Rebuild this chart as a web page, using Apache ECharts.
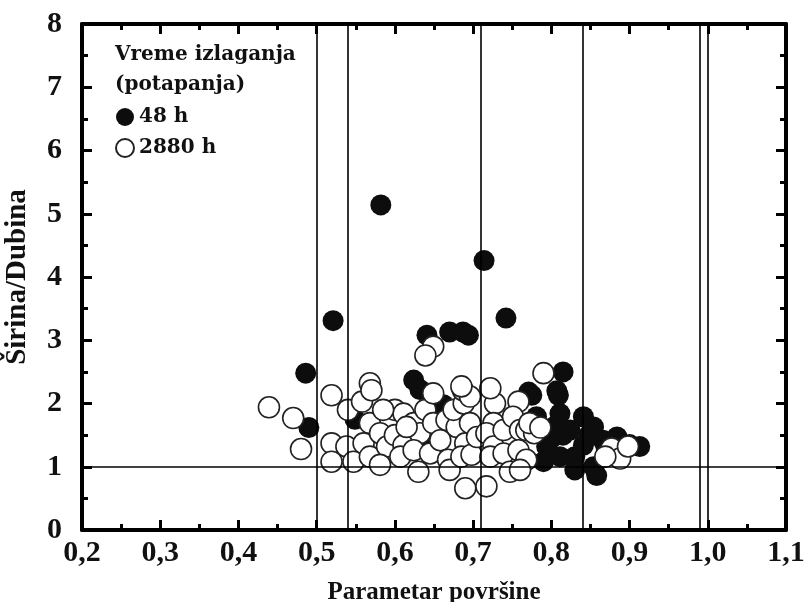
<!DOCTYPE html>
<html>
<head>
<meta charset="utf-8">
<script src="https://cdn.jsdelivr.net/npm/echarts@6/dist/echarts.min.js"></script>
<style>
  html, body { margin: 0; padding: 0; background: #fff; }
  #chart { width: 804px; height: 602px; }
</style>
</head>
<body>
<div id="chart"></div>
<script>
// 48 h (puni kruzici) - [parametar povrsine, sirina/dubina]
const points48h = [
  [0.486, 2.48], [0.490, 1.62], [0.521, 3.31], [0.549, 1.75], [0.582, 5.14],
  [0.624, 2.37], [0.632, 2.22], [0.641, 3.08], [0.662, 1.98], [0.636, 1.46],
  [0.670, 3.13], [0.687, 3.13], [0.694, 3.08], [0.714, 4.26], [0.742, 3.35],
  [0.771, 2.18], [0.775, 2.13], [0.807, 2.20], [0.815, 2.50], [0.809, 2.13],
  [0.811, 1.84], [0.781, 1.79], [0.841, 1.79], [0.854, 1.63], [0.815, 1.50],
  [0.794, 1.32], [0.790, 1.08], [0.811, 1.16], [0.830, 1.16], [0.841, 1.34],
  [0.854, 1.00], [0.858, 0.86], [0.866, 1.42], [0.884, 1.47], [0.913, 1.32],
  [0.824, 1.58], [0.803, 1.63], [0.830, 0.95], [0.800, 1.45], [0.848, 1.50],
  [0.870, 1.30], [0.900, 1.35]
]
// 2880 h (prazni kruzici)
const points2880h = [
  [0.439, 1.94], [0.470, 1.77], [0.480, 1.28], [0.519, 2.13], [0.519, 1.37],
  [0.519, 1.08], [0.540, 1.90], [0.558, 2.03], [0.568, 2.32], [0.570, 2.21],
  [0.538, 1.32], [0.547, 1.08], [0.568, 1.69], [0.560, 1.37], [0.568, 1.16],
  [0.581, 1.53], [0.590, 1.32], [0.581, 1.03], [0.600, 1.90], [0.611, 1.84],
  [0.600, 1.50], [0.611, 1.34], [0.607, 1.16], [0.624, 1.69], [0.632, 1.53],
  [0.624, 1.26], [0.639, 1.90], [0.649, 2.16], [0.649, 1.69], [0.645, 1.21],
  [0.630, 0.92], [0.658, 1.42], [0.668, 1.11], [0.670, 0.95], [0.666, 1.74],
  [0.679, 1.63], [0.675, 1.90], [0.688, 2.00], [0.690, 1.37], [0.685, 1.16],
  [0.690, 0.66], [0.687, 2.21], [0.696, 2.11], [0.696, 1.69], [0.698, 1.19],
  [0.705, 1.47], [0.728, 2.00], [0.726, 1.69], [0.717, 1.53], [0.726, 1.32],
  [0.722, 1.16], [0.717, 0.69], [0.739, 1.58], [0.739, 1.21], [0.747, 0.92],
  [0.758, 2.03], [0.751, 1.79], [0.760, 1.58], [0.768, 1.58], [0.758, 1.26],
  [0.768, 1.11], [0.760, 0.95], [0.778, 1.53], [0.772, 1.69], [0.786, 1.62],
  [0.790, 2.48], [0.685, 2.27], [0.722, 2.24], [0.649, 2.90], [0.639, 2.76],
  [0.877, 1.29], [0.888, 1.13], [0.898, 1.32], [0.869, 1.16], [0.585, 1.90],
  [0.615, 1.63]
]
// referentne linije
const verticalLines = [0.497, 0.540, 0.713, 0.843, 0.993, 1.005]
const horizontalLines = [1]

const xTicks = { min: 0.2, max: 1.1, interval: 0.1 }
const yTicks = { min: 0, max: 8, interval: 1 }

const chart = echarts.init(document.getElementById('chart'))
const serif = 'Liberation Serif'
const frameAxis = (type, pos) => ({
  type: 'value',
  position: pos,
  min: type === 'x' ? xTicks.min : yTicks.min,
  max: type === 'x' ? xTicks.max : yTicks.max,
  interval: type === 'x' ? xTicks.interval : yTicks.interval,
  axisLine: { show: true, onZero: false, lineStyle: { color: '#000', width: 4 } },
  axisTick: { show: true, inside: true, length: 10, lineStyle: { color: '#000', width: 3 } },
  minorTick: { show: true, splitNumber: 2, length: 6, lineStyle: { color: '#000', width: 3 } },
  axisLabel: { show: false },
  splitLine: { show: false }
})

const option = {
  animation: false,
  backgroundColor: '#fff',
  title: {
    text: 'Vreme izlaganja\n(potapanja)',
    left: 110,
    top: 35,
    textStyle: { fontFamily: 'DejaVu Serif', fontWeight: 'bold', fontSize: 20, lineHeight: 30, color: '#111' }
  },
  legend: {
    orient: 'vertical',
    left: 110,
    top: 102,
    itemGap: 11,
    itemWidth: 18,
    itemHeight: 18,
    icon: 'circle',
    textStyle: { fontFamily: 'DejaVu Serif', fontWeight: 'bold', fontSize: 20, color: '#111' },
    data: ['48 h', '2880 h']
  },
  grid: { left: 82, right: 18, top: 24, bottom: 72, containLabel: false, outerBoundsMode: 'none' },
  xAxis: [
    Object.assign(frameAxis('x', 'bottom'), {
      name: 'Parametar površine',
      nameLocation: 'middle',
      nameGap: 50,
      nameTextStyle: { fontFamily: serif, fontWeight: 'bold', fontSize: 25, color: '#111' },
      axisLabel: {
        show: true,
        margin: 8,
        fontFamily: serif, fontWeight: 'bold', fontSize: 30, color: '#111',
        formatter: v => v.toFixed(1).replace('.', ',')
      }
    }),
    frameAxis('x', 'top')
  ],
  yAxis: [
    Object.assign(frameAxis('y', 'left'), {
      name: 'Širina/Dubina',
      nameLocation: 'middle',
      nameGap: 50,
      nameTextStyle: { fontFamily: serif, fontWeight: 'bold', fontSize: 29, color: '#111' },
      axisLabel: {
        show: true,
        margin: 20,
        fontFamily: serif, fontWeight: 'bold', fontSize: 30, color: '#111'
      }
    }),
    frameAxis('y', 'right')
  ],
  series: [
    {
      name: '48 h',
      type: 'scatter',
      symbolSize: 21,
      itemStyle: { color: '#0d0d0d', opacity: 1 },
      data: points48h,
      markLine: {
        silent: true,
        symbol: 'none',
        label: { show: false },
        lineStyle: { color: '#000', width: 1.6, type: 'solid' },
        data: verticalLines.map(v => ({ xAxis: v })).concat(horizontalLines.map(v => ({ yAxis: v })))
      },
      z: 2
    },
    {
      name: '2880 h',
      type: 'scatter',
      symbolSize: 21,
      itemStyle: { color: '#fff', borderColor: '#222', borderWidth: 1.6, opacity: 1 },
      data: points2880h,
      z: 3
    }
  ]
}
chart.setOption(option)
</script>
</body>
</html>
